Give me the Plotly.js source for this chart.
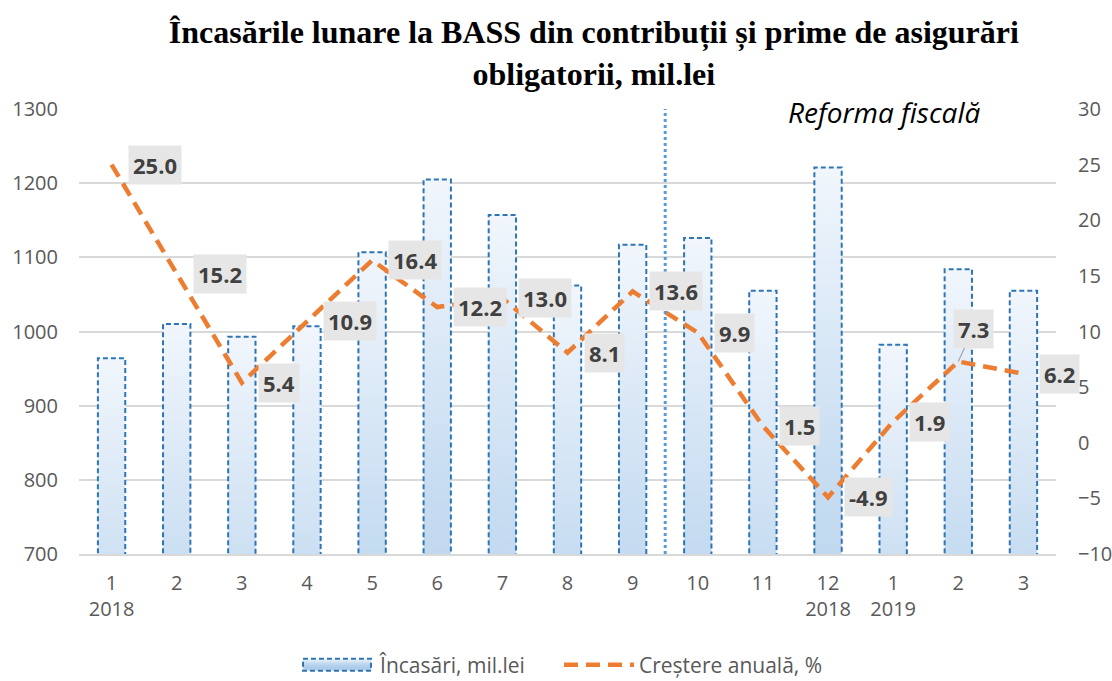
<!DOCTYPE html>
<html><head><meta charset="utf-8">
<script src="https://cdn.plot.ly/plotly-3.0.1.min.js"></script>
<style>html,body{margin:0;padding:0;background:#fff}</style>
</head><body>
<div id="chart" style="width:1112px;height:681px"></div>
<script>
// ---- data ----
const months = ['1','2','3','4','5','6','7','8','9','10','11','12','1','2','3'];
const yearLabels = ['2018','','','','','','','','','','','2018','2019','',''];
const receipts = [964,1010,993,1007,1107,1205,1157,1062,1117,1126,1055,1221,982,1084,1055];
const growth = [25.0,15.2,5.4,10.9,16.4,12.2,13.0,8.1,13.6,9.9,1.5,-4.9,1.9,7.3,6.2];
const seriesNames = ['Încasări, mil.lei','Creștere anuală, %'];
const titleText = '<b>Încasările lunare la BASS din contribuții și prime de asigurări<br>obligatorii, mil.lei</b>';
const reformText = '<i>Reforma fiscală</i>';
const reformAfterIndex = 8;

// ---- build ----
const xIdx = months.map((_, i) => i);
const tickText = months.map((m, i) => yearLabels[i] ? m + '<br>' + yearLabels[i] : m);
const tickFont = {family:'Open Sans', size:20, color:'#595959'};

const data = [
  {type:'bar', name:seriesNames[0], x:xIdx, y:receipts, yaxis:'y',
   marker:{color:'#c6dbf0', line:{color:'#2e75b6', width:2}}},
  {type:'scatter', mode:'lines', name:seriesNames[1], x:xIdx, y:growth, yaxis:'y2',
   line:{color:'#ED7D31', width:4.5, dash:'14px,8px'}}
];

const labelSpecial = {13:{ax:15, ay:-33}};
const annotations = growth.map((v, i) => {
  const base = {x:i, y:v, xref:'x', yref:'y2', text:'<b>'+v.toFixed(1)+'</b>',
    font:{family:'Open Sans', size:22, color:'#404040'}, bgcolor:'#e7e6e6', borderpad:4};
  if (labelSpecial[i]) return Object.assign(base, {showarrow:true, ax:labelSpecial[i].ax, ay:labelSpecial[i].ay,
    arrowhead:0, arrowwidth:1.2, arrowcolor:'#a6a6a6', standoff:0});
  return Object.assign(base, {showarrow:false, xanchor:'left', yanchor:'middle', xshift:16});
});
annotations.push({xref:'paper', yref:'paper', x:0.824, y:0.993, text:reformText, showarrow:false,
  xanchor:'center', yanchor:'middle', font:{family:'Open Sans', size:28, color:'#000000'}});

const layout = {
  width:1112, height:681,
  margin:{l:79, r:56, t:109, b:127},
  paper_bgcolor:'#ffffff', plot_bgcolor:'#ffffff',
  title:{text:titleText, x:0.534, xanchor:'center', y:0.937, yanchor:'middle', xref:'container', yref:'container',
    font:{family:'Liberation Serif', size:32, color:'#000000'}},
  bargap:0.58,
  showlegend:true,
  legend:{orientation:'h', x:0.5135, xanchor:'center', xref:'container', yref:'container', y:0.0235, yanchor:'middle',
    font:{family:'Open Sans', size:21, color:'#595959'}, itemwidth:70, traceorder:'normal',
    entrywidth:186, entrywidthmode:'pixels'},
  xaxis:{range:[-0.5,14.5], tickvals:xIdx, ticktext:tickText, showgrid:false, zeroline:false,
    showline:true, linecolor:'#d9d9d9', linewidth:2, ticks:'', tickfont:tickFont, ticklabelstandoff:10},
  yaxis:{range:[700,1300], tick0:700, dtick:100, showgrid:true, gridcolor:'#d9d9d9', gridwidth:2,
    zeroline:false, ticks:'', tickfont:tickFont, ticklabelstandoff:20},
  yaxis2:{range:[-10,30], tick0:-10, dtick:5, overlaying:'y', side:'right', showgrid:false,
    zeroline:false, ticks:'', tickfont:tickFont, ticklabelstandoff:21},
  shapes:[{type:'line', xref:'x', yref:'paper', x0:reformAfterIndex+0.5, x1:reformAfterIndex+0.5, y0:0, y1:1,
    line:{color:'#5b9bd5', width:3, dash:'dot'}}],
  annotations:annotations
};

Plotly.newPlot('chart', data, layout, {displayModeBar:false, staticPlot:true}).then(gd => {
  const ns = 'http://www.w3.org/2000/svg';
  const svg = gd.querySelector('.main-svg');
  let defs = svg.querySelector('defs');
  if (!defs) { defs = document.createElementNS(ns,'defs'); svg.insertBefore(defs, svg.firstChild); }
  const grad = document.createElementNS(ns,'linearGradient');
  grad.setAttribute('id','barGrad'); grad.setAttribute('x1','0'); grad.setAttribute('y1','0');
  grad.setAttribute('x2','0'); grad.setAttribute('y2','1');
  [['0','#f1f6fc'],['0.35','#c6dcf1'],['0.72','#accaea'],['0.88','#afcdea'],['1','#c1d8ef']].forEach(([o,c]) => {
    const s = document.createElementNS(ns,'stop'); s.setAttribute('offset',o); s.setAttribute('stop-color',c); grad.appendChild(s);
  });
  defs.appendChild(grad);
  gd.querySelectorAll('.barlayer .point path').forEach(p => {
    p.style.fill = 'url(#barGrad)'; p.style.strokeDasharray = '5,3';
  });
  const items = gd.querySelectorAll('.legend .traces');
  items.forEach(it => {
    it.querySelectorAll('.legendpoints path').forEach(p => {
      if (p.classList.contains('js-line')) {
        p.setAttribute('d','M3,0h68'); p.style.strokeDasharray = '12,6';
      }
    });
  });
  if (items[0]) {
    const p = items[0].querySelector('.legendpoints path');
    if (p) { p.setAttribute('d','M3,-6h68v12h-68Z'); p.setAttribute('transform',''); p.style.fill='url(#barGrad)'; p.style.strokeDasharray='5,3'; p.style.strokeWidth='2px'; }
  }
  if (items[1]) {
    const t = items[1].getAttribute('transform') || '';
    const m = t.match(/translate\(\s*([-\d.]+)[ ,]+([-\d.]+)\s*\)/);
    if (m) items[1].setAttribute('transform', 'translate(' + (parseFloat(m[1]) - 12) + ',' + m[2] + ')');
  }
});
</script>
</body></html>
